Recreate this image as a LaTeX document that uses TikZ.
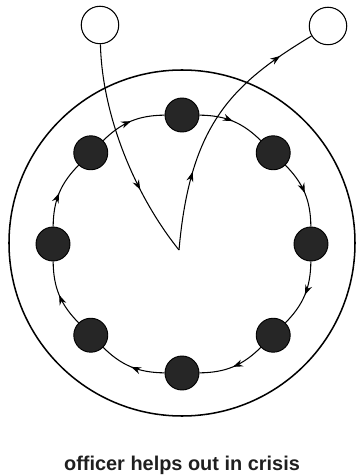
\documentclass[tikz,border=0pt]{standalone}
\usepackage{fontspec}
\setmainfont{Liberation Sans}
\usetikzlibrary{arrows.meta, calc, positioning, decorations.markings}

\begin{document}
\begin{tikzpicture}[x=0.03cm, y=0.03cm, >={Stealth[length=8.5pt, width=6pt]},
    member/.style={circle, draw, line width=0.8pt, fill=black!85, minimum size=29pt, inner sep=0pt},
    visitor/.style={circle, draw, line width=0.9pt, fill=white, minimum size=32pt, inner sep=0pt},
    ringline/.style={line width=0.9pt, postaction={decorate},
        decoration={markings, mark=at position 0.5 with {\arrow{>}}}}]
    \useasboundingbox (-182,-232) rectangle (173,244);

    % Vòng ngoài
    \draw[line width=1.3pt] (0,1) circle (173);

    % Các thành viên trên vòng trong
    \foreach \i in {0,...,7}
        \node[member] (d\i) at ({90-45*\i}:129) {};

    % Mũi tên theo chiều kim đồng hồ
    \foreach \i [evaluate=\i as \j using {int(mod(\i+1,8))}] in {0,...,7}
        \draw[ringline] (d\i) to[bend left=22] (d\j);

    % Hai vòng trắng bên ngoài
    \node[visitor] (wl) at (-82,219) {};
    \node[visitor] (wr) at (146,218) {};
    \coordinate (tip) at (-3,-6);

    % Đường vào và ra
    \draw[line width=0.9pt, postaction={decorate},
          decoration={markings, mark=at position 0.68 with {\arrow{>}}}]
        (wl) .. controls (-80,130) and (-48,50) .. (tip);
    \draw[line width=0.9pt, postaction={decorate},
          decoration={markings, mark=at position 0.3 with {\arrow{>}},
                      mark=at position 0.86 with {\arrow{>}}}]
        (tip) .. controls (8,120) and (50,160) .. (wr);

    % Chú thích
    \node[anchor=base, font=\bfseries\fontsize{17}{20}\selectfont, text=black!88] (cap) at (0,-226)
        {officer helps out in crisis};
\end{tikzpicture}
\end{document}
